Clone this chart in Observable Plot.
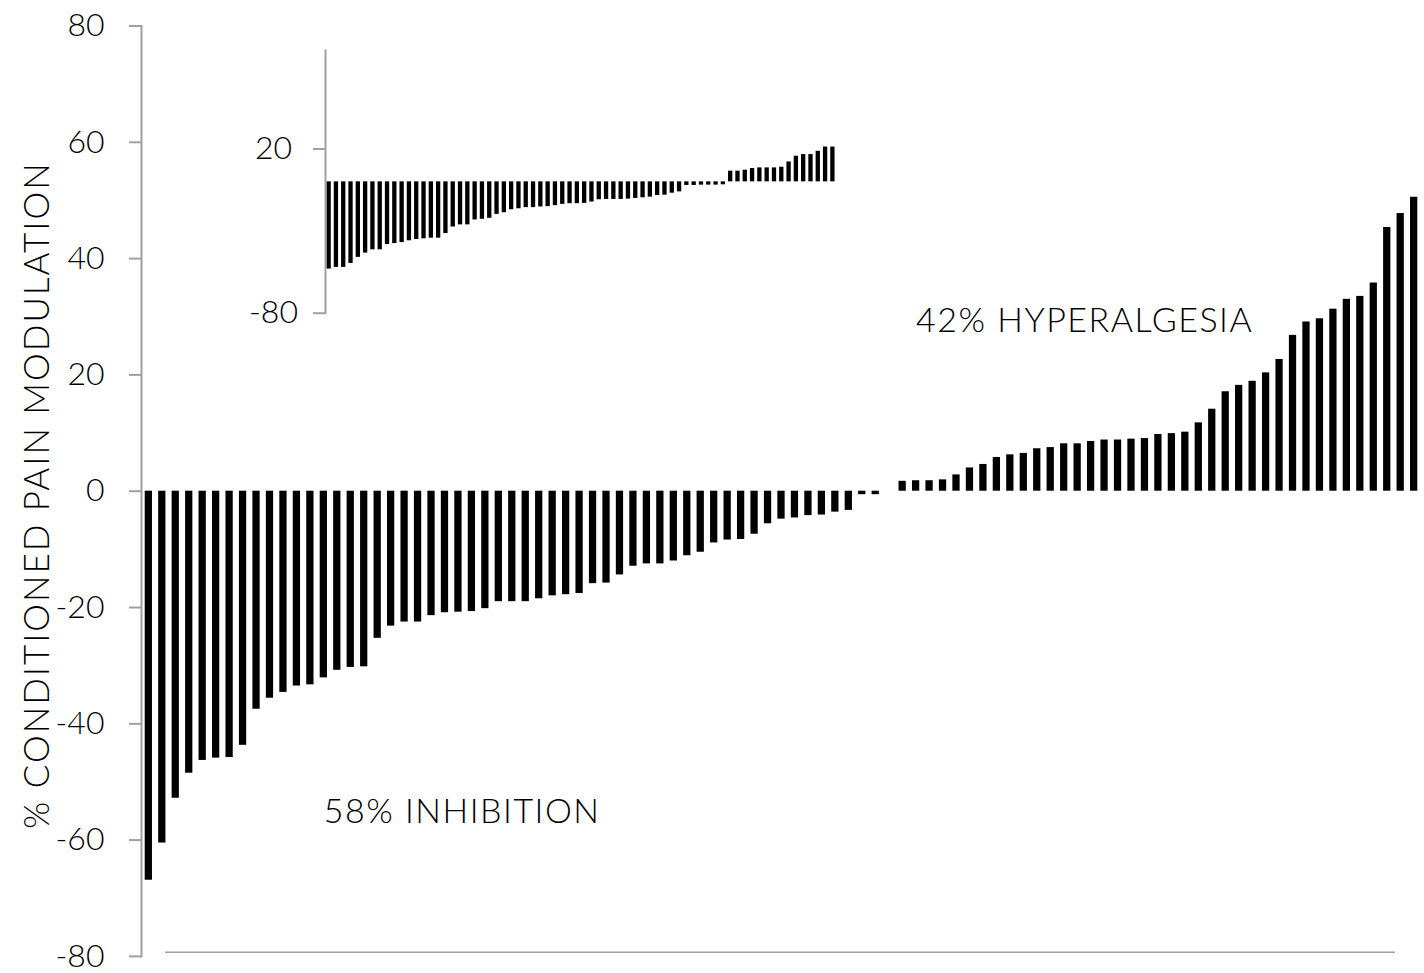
<!DOCTYPE html>
<html>
<head>
<meta charset="utf-8">
<script src="https://cdn.jsdelivr.net/npm/d3@7"></script>
<script src="https://cdn.jsdelivr.net/npm/@observablehq/plot@0.6"></script>
<style>
html, body { margin: 0; padding: 0; background: #fff; overflow: hidden; }
#chart { position: relative; width: 1424px; height: 973px; }
#chart svg { position: absolute; left: 0; top: 0; background: transparent !important; max-width: none !important; }
</style>
</head>
<body>
<div id="chart"></div>
<script>
// ---- Main chart values (sorted % conditioned pain modulation per subject) ----
const mainValues = [
  -66.9, -60.5, -52.8, -48.5, -46.3, -45.9, -45.8, -43.7, -37.5, -35.6,
  -34.6, -33.5, -33.3, -32.1, -30.8, -30.3, -30.2, -25.3, -23.2, -22.5,
  -22.5, -21.4, -20.9, -20.8, -20.7, -20.2, -19.0, -19.0, -19.0, -18.5,
  -18.0, -17.8, -17.6, -15.9, -15.8, -14.4, -12.9, -12.5, -12.5, -12.0,
  -11.1, -10.5, -8.9, -8.4, -8.3, -7.4, -5.6, -4.8, -4.6, -4.2,
  -4.1, -3.6, -3.3, -0.6, -0.6, 0,
  1.7, 1.8, 1.8, 1.95, 2.8, 4.0, 4.6, 5.8, 6.25, 6.5,
  7.3, 7.5, 8.15, 8.15, 8.55, 8.8, 8.8, 8.95, 9.05, 9.75,
  9.9, 10.15, 11.75, 14.1, 17.1, 18.2, 18.9, 20.35, 22.65, 26.8,
  29.1, 29.65, 31.3, 33.0, 33.5, 35.8, 45.35, 47.75, 50.55
];
// ---- Inset chart values ----
const insetValues = [
  -53.1, -52.1, -52.1, -49.7, -46.0, -43.4, -41.4, -41.4, -38.2, -37.6,
  -37.0, -35.9, -35.1, -34.7, -34.3, -34.3, -31.5, -27.5, -26.2, -26.2,
  -23.2, -22.8, -22.2, -19.8, -18.8, -17.0, -16.4, -15.7, -15.7, -15.3,
  -15.1, -14.5, -13.7, -13.3, -13.3, -13.1, -12.3, -10.9, -10.7, -10.7,
  -10.7, -10.5, -10.1, -9.7, -9.3, -8.3, -8.1, -6.9, -6.1,
  -2.2, -2.2, -2.0, -2.0, -2.0, -1.8,
  6.5, 6.5, 7.1, 8.1, 8.5, 8.5, 8.5, 8.9, 12.1, 15.6,
  16.6, 16.6, 18.6, 21.2, 21.2
];
const mainTicks = [-80, -60, -40, -20, 0, 20, 40, 60, 80];
const insetTicks = [-80, 20];
const yTitle = "% CONDITIONED PAIN MODULATION";
const annotationLabels = ["58% INHIBITION", "42% HYPERALGESIA"];
const annotationBars = [14, 58];
const annotationValues = [-55.25, 29.2];

const mainData = mainValues.map((v, i) => ({id: i + 1, v}));
const insetData = insetValues.map((v, i) => ({id: i + 1, v}));
const annotations = annotationLabels.map((label, i) => ({label, bar: annotationBars[i], value: annotationValues[i]}));

const font = "Lato, 'Open Sans', sans-serif";
const axisGrey = "#a0a0a0";
const fmt = d => String(d);
const noLabel = () => "";

const main = Plot.plot({
  width: 1424, height: 973,
  marginLeft: 141, marginRight: 3, marginTop: 25.5, marginBottom: 17.1,
  style: {fontFamily: font, fontWeight: 300, background: "transparent", color: "#000", overflow: "visible"},
  x: {type: "band", domain: mainData.map(d => d.id), paddingInner: 0.46, paddingOuter: 0.275, round: false, axis: null},
  y: {domain: [-80, 80], axis: null},
  marks: [
    Plot.barY(mainData, {x: "id", y: "v", fill: "#000"}),
    Plot.frame({anchor: "left", stroke: axisGrey, strokeWidth: 2}),
    Plot.ruleY([-79.3], {stroke: axisGrey, strokeWidth: 1.5, insetLeft: 24, insetRight: 26}),
    Plot.axisY({ticks: mainTicks, tickSize: 12, tickFormat: noLabel, stroke: axisGrey, strokeWidth: 2, label: null}),
    Plot.axisY({ticks: mainTicks, tickSize: 0, tickPadding: 37, tickFormat: fmt, fontSize: 32, fill: "#000", label: null}),
    Plot.text([yTitle], {frameAnchor: "left", textAnchor: "middle", dx: -104, dy: 4, rotate: -90, fontSize: 35, fill: "#000"}),
    Plot.text(annotations, {x: "bar", y: "value", text: "label", textAnchor: "start", fontSize: 34, fill: "#000"})
  ]
});

const inset = Plot.plot({
  width: 900, height: 340,
  marginLeft: 325, marginRight: 64, marginTop: 50, marginBottom: 27.3,
  style: {fontFamily: font, fontWeight: 300, background: "transparent", color: "#000", overflow: "visible"},
  x: {type: "band", domain: insetData.map(d => d.id), paddingInner: 0.41, paddingOuter: 0.2, round: false, axis: null},
  y: {domain: [-80, 80], axis: null},
  marks: [
    Plot.barY(insetData, {x: "id", y: "v", fill: "#000"}),
    Plot.frame({anchor: "left", stroke: axisGrey, strokeWidth: 2}),
    Plot.axisY({ticks: insetTicks, tickSize: 12, tickFormat: noLabel, stroke: axisGrey, strokeWidth: 2, label: null}),
    Plot.axisY({ticks: insetTicks, tickSize: 0, tickPadding: 52, textAnchor: "middle", tickFormat: fmt, fontSize: 32, fill: "#000", label: null})
  ]
});

// letter spacing for the wide geometric lettering of the original
d3.select(main).selectAll("text")
  .filter(function () { return this.textContent === yTitle; })
  .attr("letter-spacing", 2);
d3.select(main).selectAll("text")
  .filter(function () { return annotationLabels.includes(this.textContent); })
  .attr("letter-spacing", 1.5);

const chart = document.getElementById("chart");
chart.appendChild(main);
chart.appendChild(inset);
</script>
</body>
</html>
